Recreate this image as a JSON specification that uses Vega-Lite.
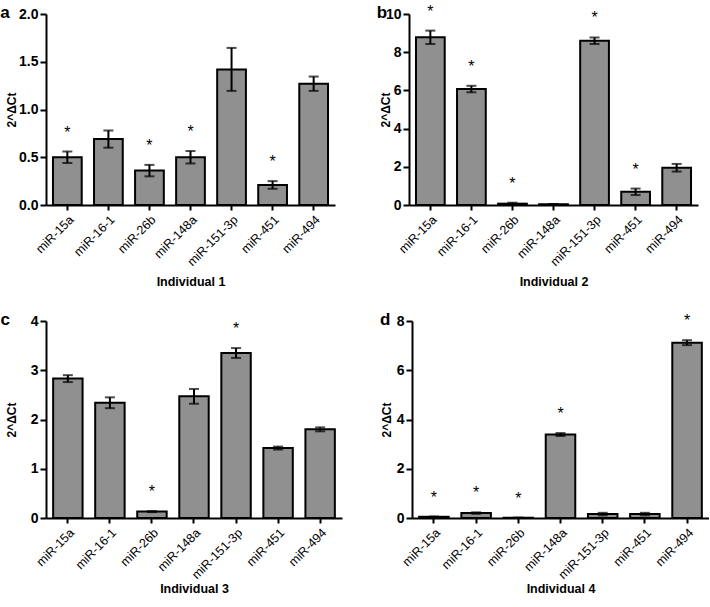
{
  "$schema": "https://vega.github.io/schema/vega-lite/v6.json",
  "padding": {"left": 0, "top": 3, "right": 0, "bottom": 0},
  "background": "white",
  "data": {"values": [
    {"ind": 1, "mir": "miR-15a", "mean": 0.50, "err": 0.06, "sig": "*"},
    {"ind": 1, "mir": "miR-16-1", "mean": 0.69, "err": 0.09, "sig": ""},
    {"ind": 1, "mir": "miR-26b", "mean": 0.36, "err": 0.06, "sig": "*"},
    {"ind": 1, "mir": "miR-148a", "mean": 0.50, "err": 0.065, "sig": "*"},
    {"ind": 1, "mir": "miR-151-3p", "mean": 1.42, "err": 0.225, "sig": ""},
    {"ind": 1, "mir": "miR-451", "mean": 0.21, "err": 0.04, "sig": "*"},
    {"ind": 1, "mir": "miR-494", "mean": 1.27, "err": 0.075, "sig": ""},
    {"ind": 2, "mir": "miR-15a", "mean": 8.78, "err": 0.35, "sig": "*"},
    {"ind": 2, "mir": "miR-16-1", "mean": 6.07, "err": 0.17, "sig": "*"},
    {"ind": 2, "mir": "miR-26b", "mean": 0.07, "err": 0.05, "sig": "*"},
    {"ind": 2, "mir": "miR-148a", "mean": 0.04, "err": 0.01, "sig": ""},
    {"ind": 2, "mir": "miR-151-3p", "mean": 8.60, "err": 0.17, "sig": "*"},
    {"ind": 2, "mir": "miR-451", "mean": 0.69, "err": 0.17, "sig": "*"},
    {"ind": 2, "mir": "miR-494", "mean": 1.95, "err": 0.2, "sig": ""},
    {"ind": 3, "mir": "miR-15a", "mean": 2.83, "err": 0.07, "sig": ""},
    {"ind": 3, "mir": "miR-16-1", "mean": 2.34, "err": 0.11, "sig": ""},
    {"ind": 3, "mir": "miR-26b", "mean": 0.13, "err": 0.01, "sig": "*"},
    {"ind": 3, "mir": "miR-148a", "mean": 2.47, "err": 0.15, "sig": ""},
    {"ind": 3, "mir": "miR-151-3p", "mean": 3.35, "err": 0.1, "sig": "*"},
    {"ind": 3, "mir": "miR-451", "mean": 1.42, "err": 0.03, "sig": ""},
    {"ind": 3, "mir": "miR-494", "mean": 1.80, "err": 0.04, "sig": ""},
    {"ind": 4, "mir": "miR-15a", "mean": 0.05, "err": 0.01, "sig": "*"},
    {"ind": 4, "mir": "miR-16-1", "mean": 0.20, "err": 0.03, "sig": "*"},
    {"ind": 4, "mir": "miR-26b", "mean": 0.01, "err": 0.005, "sig": "*"},
    {"ind": 4, "mir": "miR-148a", "mean": 3.39, "err": 0.06, "sig": "*"},
    {"ind": 4, "mir": "miR-151-3p", "mean": 0.16, "err": 0.05, "sig": ""},
    {"ind": 4, "mir": "miR-451", "mean": 0.16, "err": 0.05, "sig": ""},
    {"ind": 4, "mir": "miR-494", "mean": 7.12, "err": 0.10, "sig": "*"}
  ]},
  "vconcat": [
    {"hconcat": [
      {
        "width": 289, "height": 191,
        "transform": [{"filter": "datum.ind == 1"}, {"calculate": "datum.mean + datum.err", "as": "hi"}],
        "encoding": {"x": {"field": "mir", "type": "nominal", "sort": null, "title": "Individual 1", "scale": {"paddingInner": 0.3, "paddingOuter": 0.17}, "axis": {"titlePadding": 7}}},
        "layer": [
          {"mark": {"type": "bar", "fill": "#909090", "stroke": "black", "strokeWidth": 2},
           "encoding": {"y": {"field": "mean", "type": "quantitative", "title": "2^ΔCt", "scale": {"domain": [0, 2]}, "axis": {"values": [0, 0.5, 1, 1.5, 2], "format": ".1f", "labelOverlap": false, "titlePadding": 0}}}},
          {"mark": {"type": "errorbar", "ticks": true, "thickness": 2, "size": 10, "color": "black"},
           "encoding": {"y": {"field": "mean", "type": "quantitative", "title": "2^ΔCt", "axis": {"values": [0, 0.5, 1, 1.5, 2], "format": ".1f", "labelOverlap": false, "titlePadding": 0}}, "yError": {"field": "err"}}},
          {"mark": {"type": "text", "fontSize": 16, "dy": -19, "baseline": "middle", "clip": false, "color": "black"},
           "encoding": {"y": {"field": "hi", "type": "quantitative", "title": "2^ΔCt", "axis": {"values": [0, 0.5, 1, 1.5, 2], "format": ".1f", "labelOverlap": false, "titlePadding": 0}}, "text": {"field": "sig"}}},
          {"data": {"values": [{"ind": 1, "letter": "a"}]},
           "mark": {"type": "text", "fontSize": 17, "fontWeight": "bold", "baseline": "alphabetic", "align": "center", "dx": -48, "dy": 4, "clip": false, "color": "black"},
           "encoding": {"x": {"datum": "miR-15a", "type": "nominal", "bandPosition": 0}, "y": {"datum": 2, "type": "quantitative", "axis": {"values": [0, 0.5, 1, 1.5, 2], "format": ".1f", "labelOverlap": false, "titlePadding": 0}}, "text": {"field": "letter"}}}
        ]
      },
      {
        "width": 289, "height": 191,
        "transform": [{"filter": "datum.ind == 2"}, {"calculate": "datum.mean + datum.err", "as": "hi"}],
        "encoding": {"x": {"field": "mir", "type": "nominal", "sort": null, "title": "Individual 2", "scale": {"paddingInner": 0.3, "paddingOuter": 0.17}, "axis": {"titlePadding": 7}}},
        "layer": [
          {"mark": {"type": "bar", "fill": "#909090", "stroke": "black", "strokeWidth": 2},
           "encoding": {"y": {"field": "mean", "type": "quantitative", "title": "2^ΔCt", "scale": {"domain": [0, 10]}, "axis": {"values": [0, 2, 4, 6, 8, 10], "labelOverlap": false, "titlePadding": -7}}}},
          {"mark": {"type": "errorbar", "ticks": true, "thickness": 2, "size": 10, "color": "black"},
           "encoding": {"y": {"field": "mean", "type": "quantitative", "title": "2^ΔCt", "axis": {"values": [0, 2, 4, 6, 8, 10], "labelOverlap": false, "titlePadding": -7}}, "yError": {"field": "err"}}},
          {"mark": {"type": "text", "fontSize": 16, "dy": -19, "baseline": "middle", "clip": false, "color": "black"},
           "encoding": {"y": {"field": "hi", "type": "quantitative", "title": "2^ΔCt", "axis": {"values": [0, 2, 4, 6, 8, 10], "labelOverlap": false, "titlePadding": -7}}, "text": {"field": "sig"}}},
          {"data": {"values": [{"ind": 2, "letter": "b"}]},
           "mark": {"type": "text", "fontSize": 17, "fontWeight": "bold", "baseline": "alphabetic", "align": "center", "dx": -34, "dy": 4, "clip": false, "color": "black"},
           "encoding": {"x": {"datum": "miR-15a", "type": "nominal", "bandPosition": 0}, "y": {"datum": 10, "type": "quantitative", "axis": {"values": [0, 2, 4, 6, 8, 10], "labelOverlap": false, "titlePadding": -7}}, "text": {"field": "letter"}}}
        ]
      }
    ], "spacing": 41},
    {"hconcat": [
      {
        "width": 296, "height": 197,
        "transform": [{"filter": "datum.ind == 3"}, {"calculate": "datum.mean + datum.err", "as": "hi"}],
        "encoding": {"x": {"field": "mir", "type": "nominal", "sort": null, "title": "Individual 3", "scale": {"paddingInner": 0.3, "paddingOuter": 0.17}, "axis": {"titlePadding": 1}}},
        "layer": [
          {"mark": {"type": "bar", "fill": "#909090", "stroke": "black", "strokeWidth": 2},
           "encoding": {"y": {"field": "mean", "type": "quantitative", "title": "2^ΔCt", "scale": {"domain": [0, 4]}, "axis": {"values": [0, 1, 2, 3, 4], "labelOverlap": false, "titlePadding": 12}}}},
          {"mark": {"type": "errorbar", "ticks": true, "thickness": 2, "size": 10, "color": "black"},
           "encoding": {"y": {"field": "mean", "type": "quantitative", "title": "2^ΔCt", "axis": {"values": [0, 1, 2, 3, 4], "labelOverlap": false, "titlePadding": 12}}, "yError": {"field": "err"}}},
          {"mark": {"type": "text", "fontSize": 16, "dy": -19, "baseline": "middle", "clip": false, "color": "black"},
           "encoding": {"y": {"field": "hi", "type": "quantitative", "title": "2^ΔCt", "axis": {"values": [0, 1, 2, 3, 4], "labelOverlap": false, "titlePadding": 12}}, "text": {"field": "sig"}}},
          {"data": {"values": [{"ind": 3, "letter": "c"}]},
           "mark": {"type": "text", "fontSize": 17, "fontWeight": "bold", "baseline": "alphabetic", "align": "center", "dx": -48, "dy": 4, "clip": false, "color": "black"},
           "encoding": {"x": {"datum": "miR-15a", "type": "nominal", "bandPosition": 0}, "y": {"datum": 4, "type": "quantitative", "axis": {"values": [0, 1, 2, 3, 4], "labelOverlap": false, "titlePadding": 12}}, "text": {"field": "letter"}}}
        ]
      },
      {
        "width": 297, "height": 197,
        "transform": [{"filter": "datum.ind == 4"}, {"calculate": "datum.mean + datum.err", "as": "hi"}],
        "encoding": {"x": {"field": "mir", "type": "nominal", "sort": null, "title": "Individual 4", "scale": {"paddingInner": 0.3, "paddingOuter": 0.17}, "axis": {"titlePadding": 1}}},
        "layer": [
          {"mark": {"type": "bar", "fill": "#909090", "stroke": "black", "strokeWidth": 2},
           "encoding": {"y": {"field": "mean", "type": "quantitative", "title": "2^ΔCt", "scale": {"domain": [0, 8]}, "axis": {"values": [0, 2, 4, 6, 8], "labelOverlap": false, "titlePadding": 3}}}},
          {"mark": {"type": "errorbar", "ticks": true, "thickness": 2, "size": 10, "color": "black"},
           "encoding": {"y": {"field": "mean", "type": "quantitative", "title": "2^ΔCt", "axis": {"values": [0, 2, 4, 6, 8], "labelOverlap": false, "titlePadding": 3}}, "yError": {"field": "err"}}},
          {"mark": {"type": "text", "fontSize": 16, "dy": -19, "baseline": "middle", "clip": false, "color": "black"},
           "encoding": {"y": {"field": "hi", "type": "quantitative", "title": "2^ΔCt", "axis": {"values": [0, 2, 4, 6, 8], "labelOverlap": false, "titlePadding": 3}}, "text": {"field": "sig"}}},
          {"data": {"values": [{"ind": 4, "letter": "d"}]},
           "mark": {"type": "text", "fontSize": 17, "fontWeight": "bold", "baseline": "alphabetic", "align": "center", "dx": -34, "dy": 4, "clip": false, "color": "black"},
           "encoding": {"x": {"datum": "miR-15a", "type": "nominal", "bandPosition": 0}, "y": {"datum": 8, "type": "quantitative", "axis": {"values": [0, 2, 4, 6, 8], "labelOverlap": false, "titlePadding": 3}}, "text": {"field": "letter"}}}
        ]
      }
    ], "spacing": 37}
  ],
  "spacing": 23,
  "config": {
    "font": "Liberation Sans",
    "view": {"stroke": null},
    "axis": {"domainColor": "black", "domainWidth": 2, "tickColor": "black", "tickWidth": 2, "labelColor": "black", "titleColor": "black", "grid": false},
    "axisY": {"labelFontSize": 14, "labelFontWeight": "bold", "tickSize": 6, "titleFontSize": 12, "titleFontWeight": "bold", "labelPadding": 2, "labelOverlap": false},
    "axisX": {"labelAngle": -45, "labelFontSize": 12.5, "labelColor": "black", "tickSize": 5, "titleFontSize": 12.5, "titleFontWeight": "bold", "labelPadding": 3}
  }
}
